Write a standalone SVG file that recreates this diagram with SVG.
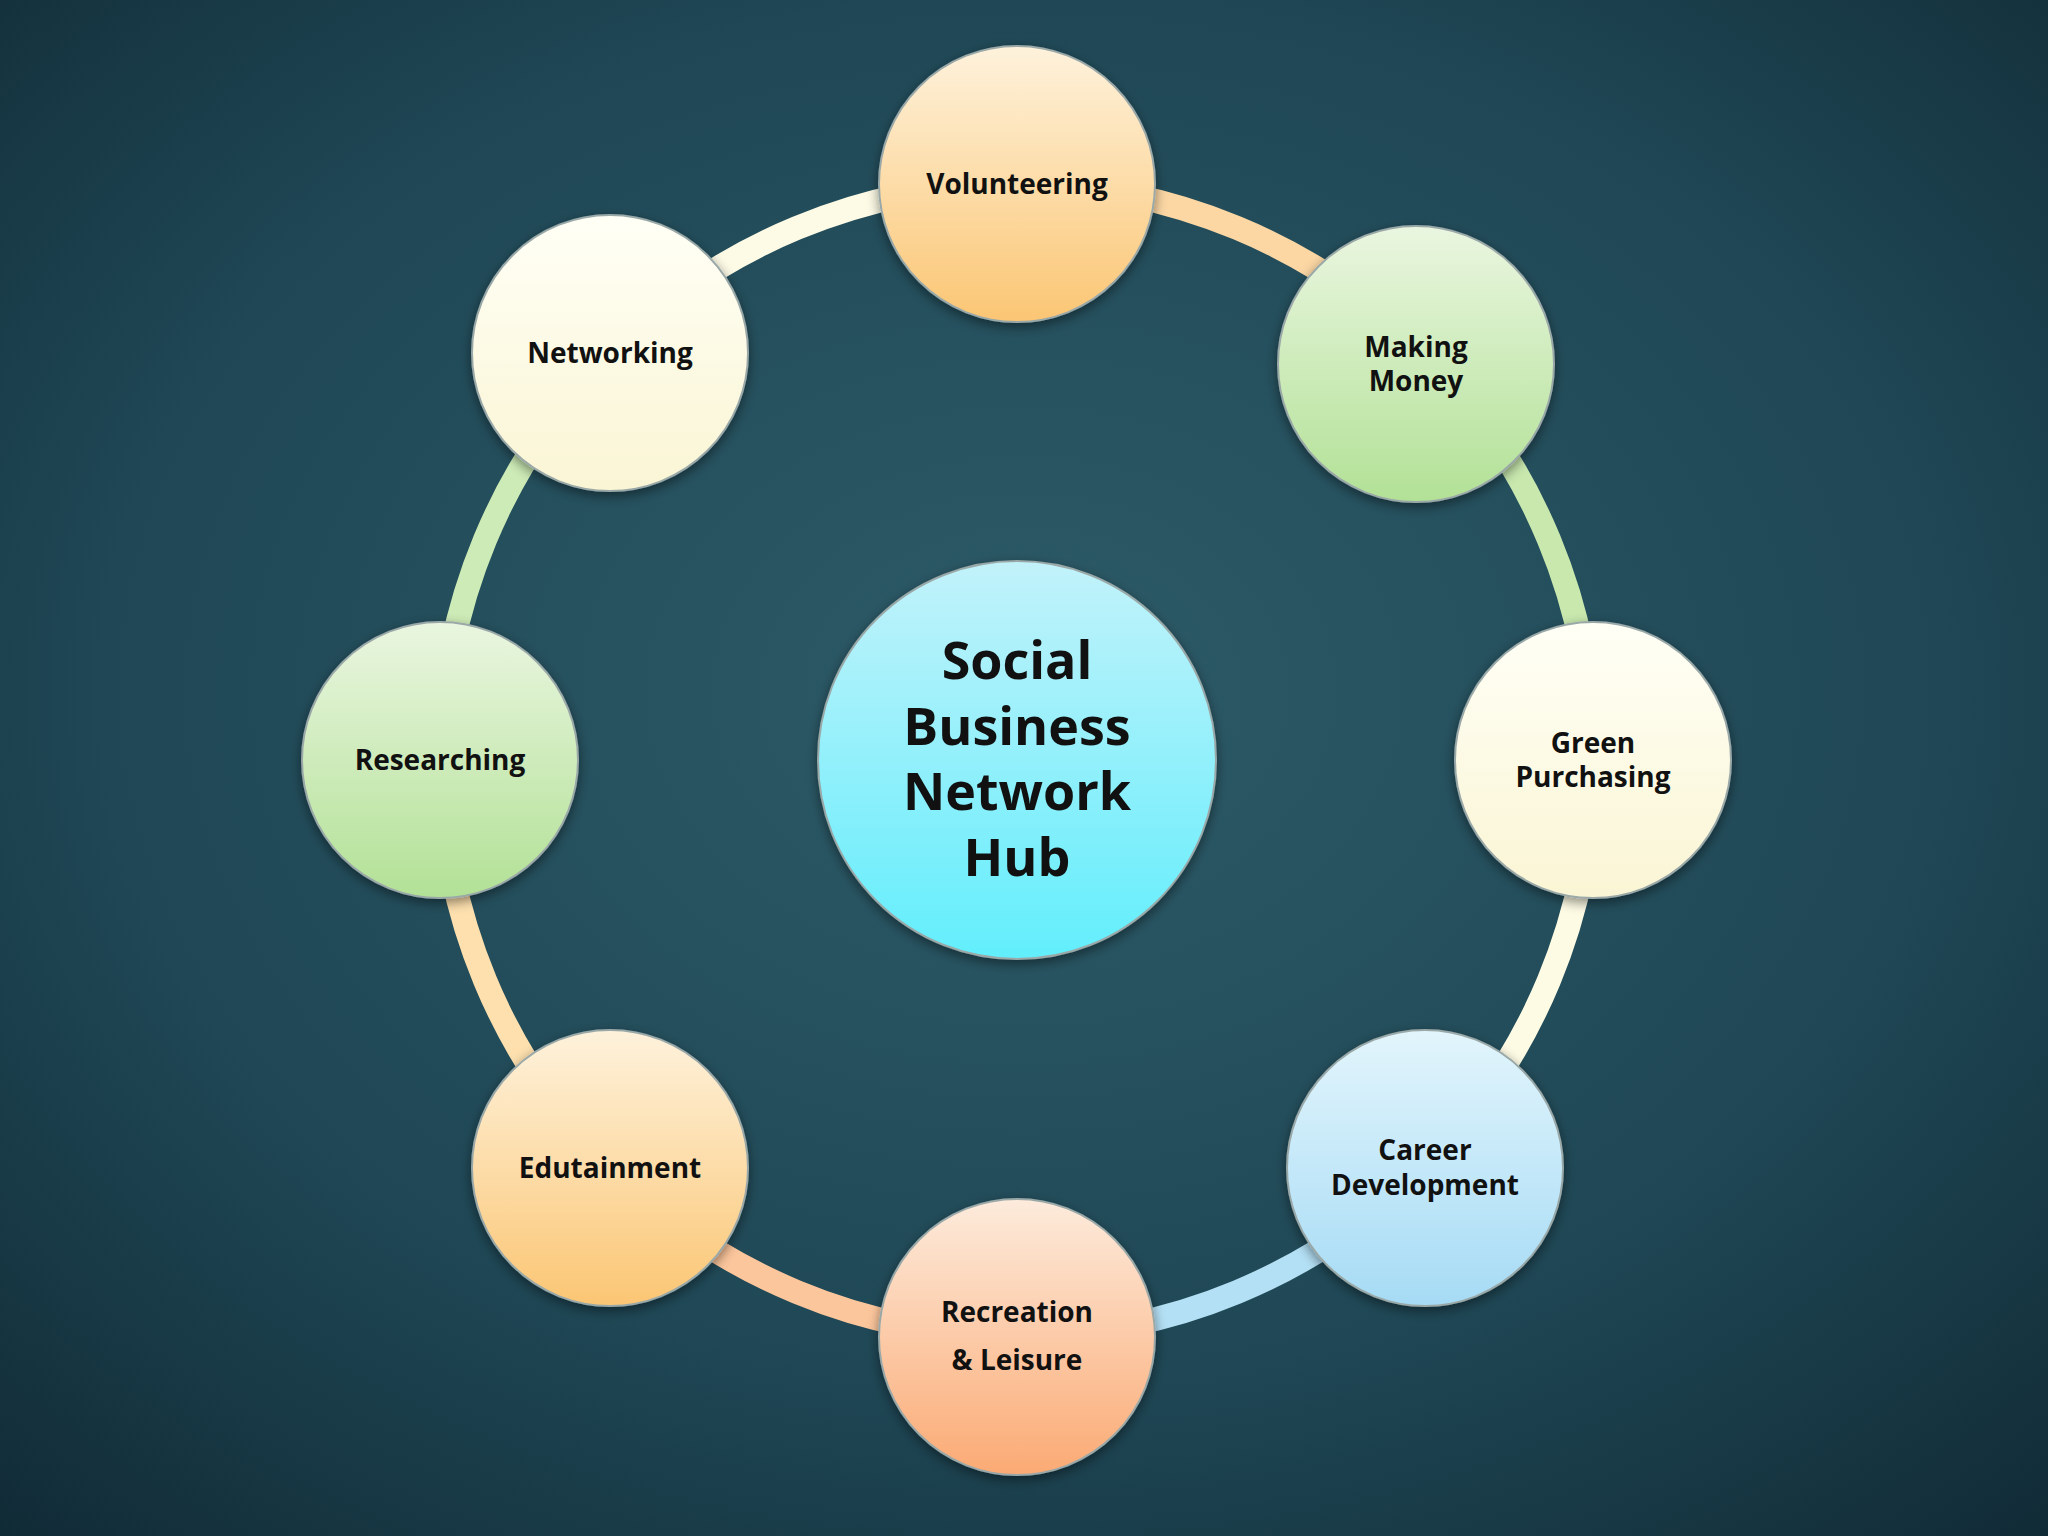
<svg xmlns="http://www.w3.org/2000/svg" width="2048" height="1536" viewBox="0 0 2048 1536">
<defs>
<radialGradient id="bg" cx="50%" cy="45%" r="75%"><stop offset="0" stop-color="#2d5b68"/><stop offset="0.6" stop-color="#1f4755"/><stop offset="1" stop-color="#102a35"/></radialGradient>
<linearGradient id="gOr" x1="0" y1="0" x2="0" y2="1"><stop offset="0" stop-color="#fef2dc"/><stop offset="1" stop-color="#fbc674"/></linearGradient>
<linearGradient id="gGr" x1="0" y1="0" x2="0" y2="1"><stop offset="0" stop-color="#eaf6e0"/><stop offset="1" stop-color="#b2e196"/></linearGradient>
<linearGradient id="gCr" x1="0" y1="0" x2="0" y2="1"><stop offset="0" stop-color="#fffff6"/><stop offset="1" stop-color="#faf5d4"/></linearGradient>
<linearGradient id="gBl" x1="0" y1="0" x2="0" y2="1"><stop offset="0" stop-color="#e2f5fc"/><stop offset="1" stop-color="#a6dbf5"/></linearGradient>
<linearGradient id="gPe" x1="0" y1="0" x2="0" y2="1"><stop offset="0" stop-color="#fdebdc"/><stop offset="1" stop-color="#fbaa74"/></linearGradient>
<linearGradient id="gHub" x1="0" y1="0" x2="0" y2="1"><stop offset="0" stop-color="#c2f2fa"/><stop offset="1" stop-color="#62eefc"/></linearGradient>
<filter id="sh" x="-20%" y="-20%" width="140%" height="140%"><feDropShadow dx="0" dy="4" stdDeviation="6" flood-color="#000" flood-opacity="0.45"/></filter>
</defs>
<style>
.n{stroke:#9aa8a8;stroke-width:2;filter:url(#sh)}
.t{font-family:"Open Sans","Liberation Sans",sans-serif;font-weight:bold;font-size:28px;fill:#111;text-anchor:middle}
.h{font-family:"Open Sans","Liberation Sans",sans-serif;font-weight:bold;font-size:52px;fill:#111;text-anchor:middle}
.a{fill:none;stroke-width:24}
</style>
<rect width="2048" height="1536" fill="url(#bg)"/>
<g id="connectors">
<path class="a" stroke="#fcd7a4" d="M1017 184 A576 576 0 0 1 1424 353"/>
<path class="a" stroke="#c8e8ae" d="M1424 353 A576 576 0 0 1 1593 760"/>
<path class="a" stroke="#fdfbe4" d="M1593 760 A576 576 0 0 1 1424 1167"/>
<path class="a" stroke="#b4e0f5" d="M1424 1167 A576 576 0 0 1 1017 1336"/>
<path class="a" stroke="#fcc69c" d="M1017 1336 A576 576 0 0 1 610 1167"/>
<path class="a" stroke="#fde0ae" d="M610 1167 A576 576 0 0 1 441 760"/>
<path class="a" stroke="#cdebb6" d="M441 760 A576 576 0 0 1 610 353"/>
<path class="a" stroke="#fdfbe6" d="M610 353 A576 576 0 0 1 1017 184"/>
</g>
<g id="hub"><circle class="n" cx="1017" cy="760" r="199" fill="url(#gHub)"/>
<text class="h" x="1017" y="679">Social</text><text class="h" x="1017" y="745">Business</text><text class="h" x="1017" y="810">Network</text><text class="h" x="1017" y="876">Hub</text></g>
<g id="volunteering"><circle class="n" cx="1017" cy="184" r="138" fill="url(#gOr)"/><text class="t" x="1017" y="194">Volunteering</text></g>
<g id="making-money"><circle class="n" cx="1416" cy="364" r="138" fill="url(#gGr)"/><text class="t" x="1416" y="357">Making</text><text class="t" x="1416" y="391">Money</text></g>
<g id="green-purchasing"><circle class="n" cx="1593" cy="760" r="138" fill="url(#gCr)"/><text class="t" x="1593" y="753">Green</text><text class="t" x="1593" y="787">Purchasing</text></g>
<g id="career-development"><circle class="n" cx="1425" cy="1168" r="138" fill="url(#gBl)"/><text class="t" x="1425" y="1160">Career</text><text class="t" x="1425" y="1195">Development</text></g>
<g id="recreation"><circle class="n" cx="1017" cy="1337" r="138" fill="url(#gPe)"/><text class="t" x="1017" y="1322">Recreation</text><text class="t" x="1017" y="1370">&amp; Leisure</text></g>
<g id="edutainment"><circle class="n" cx="610" cy="1168" r="138" fill="url(#gOr)"/><text class="t" x="610" y="1178">Edutainment</text></g>
<g id="researching"><circle class="n" cx="440" cy="760" r="138" fill="url(#gGr)"/><text class="t" x="440" y="770">Researching</text></g>
<g id="networking"><circle class="n" cx="610" cy="353" r="138" fill="url(#gCr)"/><text class="t" x="610" y="363">Networking</text></g>
</svg>
